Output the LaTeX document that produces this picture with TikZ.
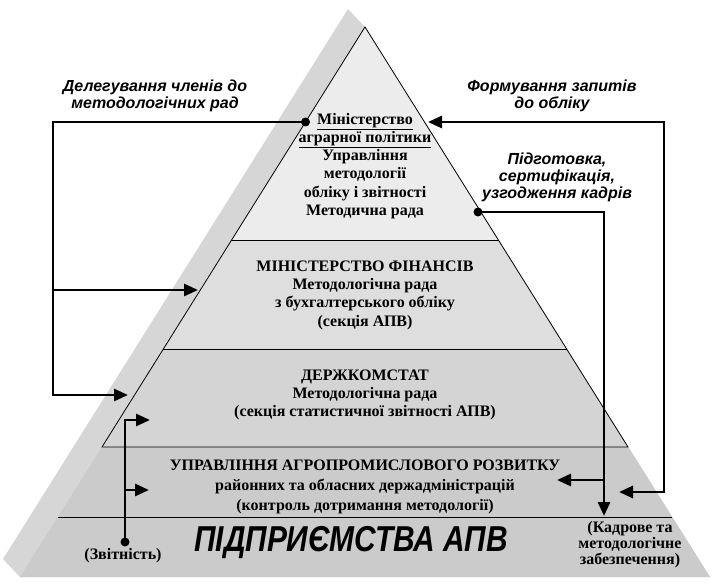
\documentclass[tikz,border=0pt]{standalone}
\usepackage{fontspec}
\setmainfont{Liberation Serif}
\newfontfamily\annfont{Liberation Sans}
\usetikzlibrary{arrows.meta}
\definecolor{bandgray}{HTML}{D6D6D6}
\definecolor{lowgray}{HTML}{CBCBCB}
\definecolor{midgray}{HTML}{D4D4D4}
\definecolor{secgray}{HTML}{DEDEDE}
\definecolor{topgray}{HTML}{ECECEC}
\tikzset{
  conn/.style={line width=2.8pt, -{Triangle[length=14pt,width=12pt]}},
  edge/.style={line width=0.8pt},
  dotmark/.style={fill=black},
  seclabel/.style={inner sep=0pt, align=center, font=\fontsize{16}{18.3}\selectfont\bfseries},
  annlabel/.style={inner sep=0pt, align=center, font=\annfont\fontsize{16}{17}\selectfont\bfseries\itshape},
  sidelabel/.style={inner sep=0pt, align=center, font=\fontsize{16}{16}\selectfont\bfseries}
}
\begin{document}
\begin{tikzpicture}[x=1pt,y=-1pt]
\useasboundingbox (0,0) rectangle (722,585);
% body of the pyramid (side face)
\fill[bandgray] (348,9) -- (365,27) -- (710,577) -- (20,577) -- (3,559) -- cycle;
% front faces
\fill[lowgray] (102,447) -- (628,447) -- (710,577) -- (20,577) -- cycle;
\fill[midgray] (163,349) -- (567,349) -- (628,447) -- (102,447) -- cycle;
\fill[secgray] (231.5,240) -- (498.5,240) -- (567,349) -- (163,349) -- cycle;
\fill[topgray] (365,27) -- (498.5,240) -- (231.5,240) -- cycle;
% outlines
\draw[edge] (102,447) -- (365,27) -- (628,447) -- cycle;
\draw[edge] (231.5,240) -- (498.5,240);
\draw[edge] (163,349) -- (567,349);
\draw[edge] (58,517) -- (672,517);

% section texts
\node[seclabel] (s1) at (365,166) {\underline{Міністерство}\\\underline{аграрної політики}\\Управління\\методології\\обліку і звітності\\Методична рада};
\node[seclabel] (s2) at (365,295) {МІНІСТЕРСТВО ФІНАНСІВ\\Методологічна рада\\з бухгалтерського обліку\\(секція АПВ)};
\node[seclabel] (s3) at (365,395) {ДЕРЖКОМСТАТ\\Методологічна рада\\(секція статистичної звітності АПВ)};
\node[seclabel, font=\fontsize{16}{20}\selectfont\bfseries] (s4) at (365,487) {УПРАВЛІННЯ АГРОПРОМИСЛОВОГО РОЗВИТКУ\\районних та обласних держадміністрацій\\(контроль дотримання методології)};
\node[inner sep=0pt, font=\annfont\fontsize{36}{38}\selectfont\bfseries\itshape] (s5) at (351,543) {\scalebox{0.83}[1]{ПІДПРИЄМСТВА АПВ}};

% annotations
\node[annlabel] (tA) at (155,96) {Делегування членів до\\методологічних рад};
\node[annlabel] (tB) at (552,96) {Формування запитів\\до обліку};
\node[annlabel] (tC) at (557,177) {Підготовка,\\сертифікація,\\узгодження кадрів};
\node[sidelabel] (zv) at (123,556) {(Звітність)};
\node[sidelabel] (kd) at (630,545) {(Кадрове та\\методологічне\\забезпечення)};

% connector points
\coordinate (dL) at (305.5,122);
\coordinate (cL1) at (53,122);
\coordinate (cL2) at (53,395);
\coordinate (bL) at (53,290);
\coordinate (aL1) at (198,290);
\coordinate (aL2) at (128,395);
\coordinate (dZ) at (125,542);
\coordinate (cZ) at (125,420);
\coordinate (aZ1) at (150,420);
\coordinate (bZ) at (125,490);
\coordinate (aZ2) at (149,490);
\coordinate (aR1) at (428,122);
\coordinate (cR1) at (664,122);
\coordinate (cR2) at (664,492);
\coordinate (aR2) at (619,492);
\coordinate (dR) at (478,212);
\coordinate (cK1) at (604,212);
\coordinate (aK1) at (604,516);
\coordinate (bK) at (604,480);
\coordinate (aK2) at (557,480);

% connectors
\draw[conn] (dL) -- (cL1) -- (cL2) -- (aL2);
\draw[conn] (bL) -- (aL1);
\draw[conn] (dZ) -- (cZ) -- (aZ1);
\draw[conn] (bZ) -- (aZ2);
\draw[conn] (cR2) -- (cR1) -- (aR1);
\draw[conn] (cR1) -- (cR2) -- (aR2);
\draw[conn] (dR) -- (cK1) -- (aK1);
\draw[conn] (bK) -- (aK2);
\fill[dotmark] (dL) circle[radius=4.5pt];
\fill[dotmark] (dZ) circle[radius=4.5pt];
\fill[dotmark] (dR) circle[radius=4.5pt];
\end{tikzpicture}
\end{document}
